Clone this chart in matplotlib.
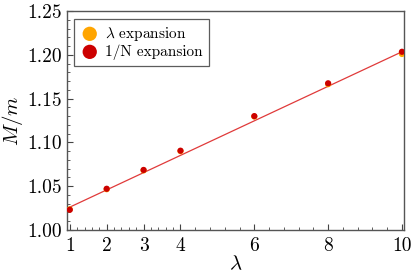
import numpy as np
import matplotlib
matplotlib.use("Agg")
import matplotlib.pyplot as plt

# values
lam = [1, 2, 3, 4, 6, 8, 10]
lam_expansion = [1.0235, 1.0465, 1.0680, 1.0900, 1.1295, 1.1665, 1.2010]
n_expansion = [1.0230, 1.0470, 1.0685, 1.0905, 1.1300, 1.1675, 1.2035]
fit_x = [1, 10]
fit_y = [1.026, 1.2035]
xticks = [1, 2, 3, 4, 6, 8, 10]

plt.rcParams["font.family"] = "serif"
plt.rcParams["font.serif"] = ["cmr10"]
plt.rcParams["mathtext.fontset"] = "cm"
plt.rcParams["axes.formatter.use_mathtext"] = True

fig = plt.figure(figsize=(4.15, 2.77), dpi=100)
ax = fig.add_axes([0.161, 0.170, 0.812, 0.790])

ax.plot(fit_x, fit_y, color="#e03a3a", lw=0.9, zorder=2)
ax.scatter(lam, lam_expansion, s=20, color="#ffa500", zorder=3, label=r"$\lambda$ expansion",
           edgecolors="none")
ax.scatter(lam, n_expansion, s=20, color="#cc0000", zorder=4, label="1/N expansion",
           edgecolors="none")

ax.set_xlim(0.92, 10.05)
ax.set_ylim(1.0, 1.25)
ax.set_xticks(xticks)
ax.set_xticklabels([str(t) for t in xticks])
ax.set_yticks([1.00, 1.05, 1.10, 1.15, 1.20, 1.25])
ax.set_yticklabels(["1.00", "1.05", "1.10", "1.15", "1.20", "1.25"])

# minor ticks: 5 subdivisions of every major interval
minor_x = []
for a, b in zip(xticks[:-1], xticks[1:]):
    minor_x += list(np.linspace(a, b, 6)[1:-1])
ax.set_xticks(minor_x, minor=True)
ax.set_yticks(np.arange(1.0, 1.2501, 0.01), minor=True)

ax.tick_params(which="both", direction="in", top=False, right=False, colors="#444444",
               labelcolor="black", labelsize=14)
ax.tick_params(which="major", length=4, width=0.8)
ax.tick_params(which="minor", length=2, width=0.6)
ax.tick_params(axis="x", pad=5)
for s in ax.spines.values():
    s.set_color("#555555")
    s.set_linewidth(1.0)

ax.set_xlabel(r"$\lambda$", fontsize=15)
ax.set_ylabel(r"$M/m$", fontsize=15)
ax.xaxis.set_label_coords(0.5, -0.115)
ax.yaxis.set_label_coords(-0.125, 0.5)

leg = ax.legend(loc="upper left", fontsize=11, frameon=True, fancybox=False, markerscale=2.3,
                handletextpad=0.4, borderpad=0.4, handlelength=1.2, labelspacing=0.1,
                borderaxespad=0.5)
leg.get_frame().set_edgecolor("#333333")
leg.get_frame().set_linewidth(0.9)

fig.savefig("out.png", dpi=100)
